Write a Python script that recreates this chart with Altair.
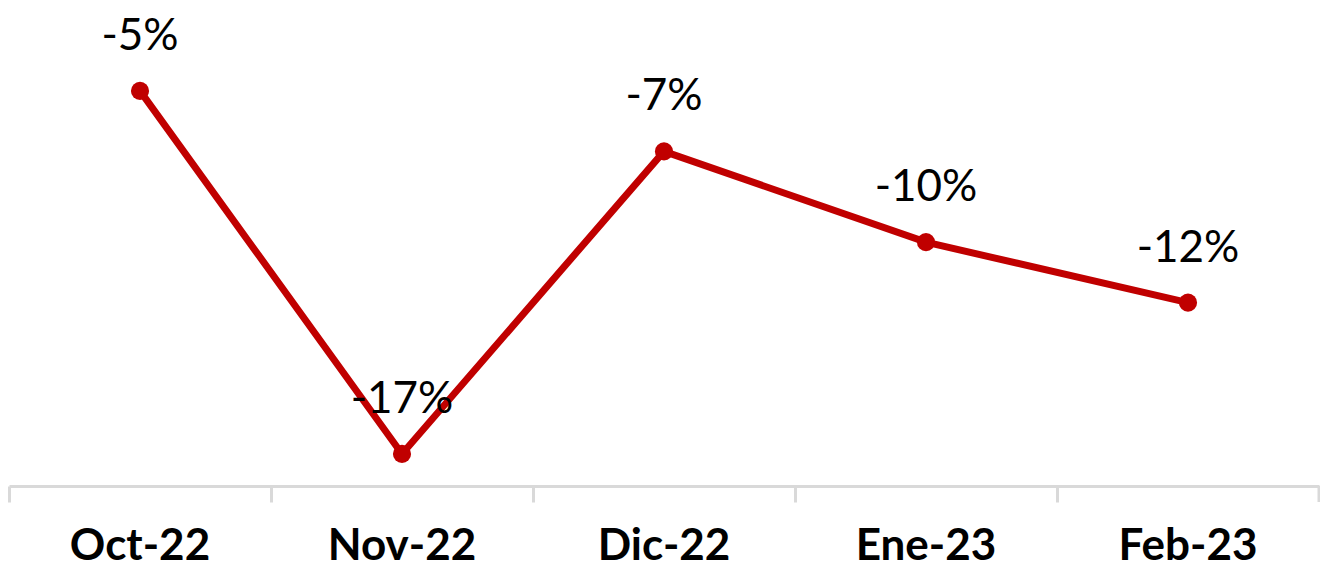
import altair as alt
import pandas as pd

months = ["Oct-22", "Nov-22", "Dic-22", "Ene-23", "Feb-23"]
values = [-5, -17, -7, -10, -12]
labels = ["-5%", "-17%", "-7%", "-10%", "-12%"]

df = pd.DataFrame({"month": months, "value": values, "label": labels})

RED = "#C00000"
GRID = "#D9D9D9"
W = 1310
H = 478

x = alt.X("month:N", sort=months, title=None,
          scale=alt.Scale(paddingInner=0, paddingOuter=0),
          axis=alt.Axis(labelAngle=0, labelFont="Lato", labelFontSize=44,
                        labelFontWeight="bold", labelColor="#000000",
                        labelBaseline="alphabetic",
                        domainColor=GRID, domainWidth=3, tickColor=GRID,
                        tickWidth=3, tickSize=16, bandPosition=0,
                        labelPadding=57, grid=False))
y = alt.Y("value:Q", title=None,
          scale=alt.Scale(domain=[-18.06, -2.26], nice=False, zero=False),
          axis=None)

base = alt.Chart(df)
line = base.mark_line(color=RED, strokeWidth=7).encode(x=x, y=y)
pts = base.mark_circle(color=RED, size=330, opacity=1).encode(x=x, y=y)
txt = base.mark_text(font="Lato", fontSize=44, color="#000000", dy=-41,
                     baseline="alphabetic", align="center").encode(
    x=x, y=y, text="label:N")
last_tick = alt.Chart(pd.DataFrame({"month": [months[-1]]})).mark_rule(
    color=GRID, strokeWidth=3).encode(
    x=alt.X("month:N", sort=months, bandPosition=1),
    y=alt.value(H), y2=alt.value(H + 16))

chart = alt.layer(line, pts, txt, last_tick).properties(
    width=W, height=H,
    background="#ffffff",
    padding={"left": 1, "top": 0, "right": 1, "bottom": 82},
    autosize=alt.AutoSizeParams(type="none"),
).configure_view(stroke=None)

chart.save("out.html", embed_options={"renderer": "svg", "actions": False})
